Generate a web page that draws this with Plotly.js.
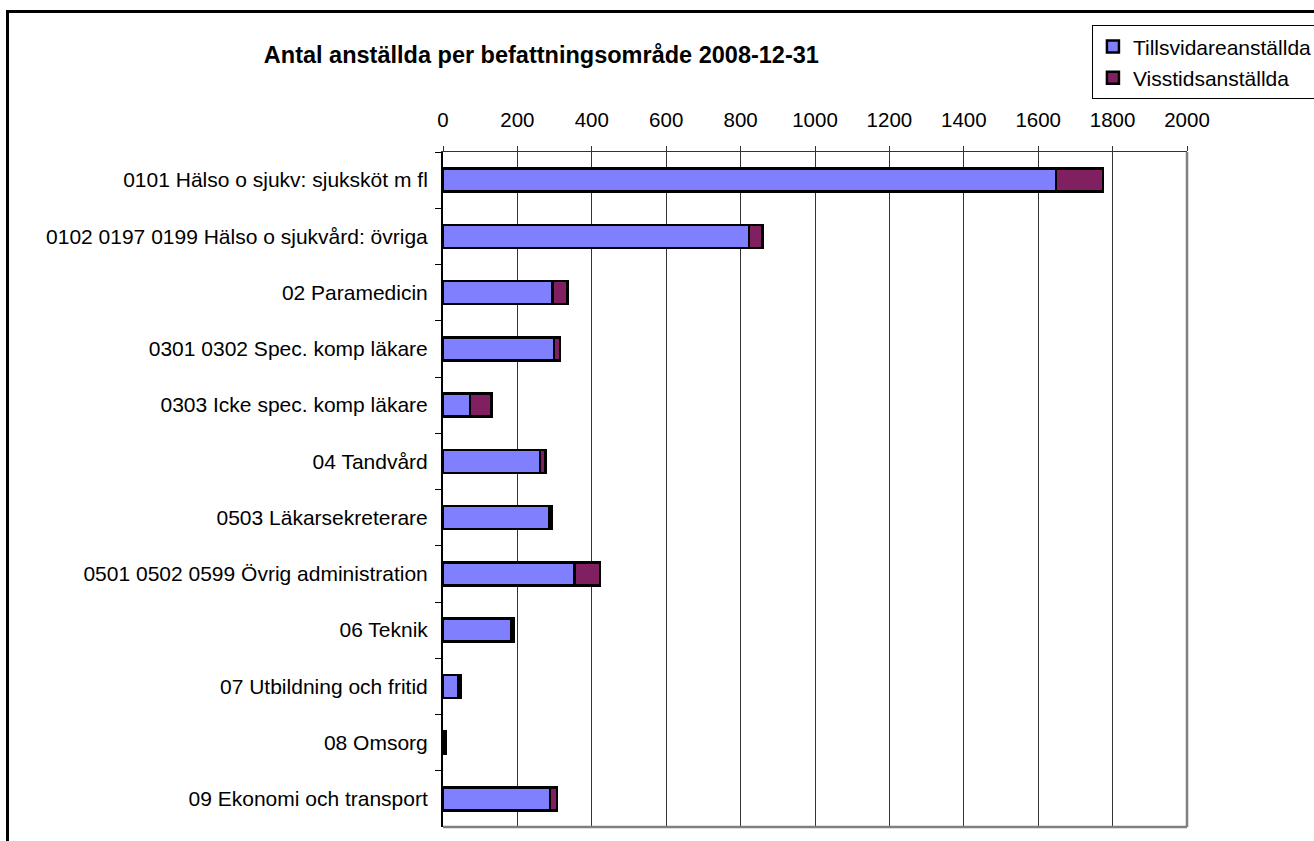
<!DOCTYPE html>
<html>
<head>
<meta charset="utf-8">
<script src="https://cdn.plot.ly/plotly-3.0.1.min.js"></script>
<style>
  html, body { margin: 0; padding: 0; overflow: hidden; background: #fff; }
  #wrap { position: relative; width: 1314px; height: 841px; }
  #chart { width: 1314px; height: 841px; }
  #frame { position: absolute; left: 6px; top: 10px; width: 1400px; height: 1000px;
           border: 3px solid #000; pointer-events: none; box-sizing: border-box; }
</style>
</head>
<body>
<div id="wrap">
  <div id="chart"></div>
  <div id="frame"></div>
</div>
<script>
const categories = [
  "0101 Hälso o sjukv: sjuksköt m fl",
  "0102 0197 0199 Hälso o sjukvård: övriga",
  "02 Paramedicin",
  "0301 0302 Spec. komp läkare",
  "0303 Icke spec. komp läkare",
  "04 Tandvård",
  "0503 Läkarsekreterare",
  "0501 0502 0599 Övrig administration",
  "06 Teknik",
  "07 Utbildning och fritid",
  "08 Omsorg",
  "09 Ekonomi och transport"
];
const tillsvidare = [1648, 823, 295, 298, 73, 261, 285, 353, 184, 42, 5, 288];
const visstid     = [126,  36,  40,  16,  58, 14,  7,   69,  5,   5,  3, 19];
const xTicks = [0, 200, 400, 600, 800, 1000, 1200, 1400, 1600, 1800, 2000];

const FONT = "Arial, 'Liberation Sans', sans-serif";

const traces = [
  {
    type: "bar", orientation: "h", name: "Tillsvidareanställda",
    y: categories, x: tillsvidare, legendgroup: "a",
    marker: { color: "#8080FF", line: { color: "#000", width: 2.5 } },
    hoverinfo: "x+y"
  },
  {
    type: "bar", orientation: "h", name: "Visstidsanställda",
    y: categories, x: visstid, legendgroup: "b",
    marker: { color: "#802060", line: { color: "#000", width: 2.5 } },
    hoverinfo: "x+y"
  }
];

const layout = {
  width: 1314, height: 841,
  paper_bgcolor: "#fff", plot_bgcolor: "#fff",
  font: { family: FONT, size: 21, color: "#000" },
  margin: { l: 443, r: 127, t: 152, b: 14, pad: 0, autoexpand: false },
  barmode: "stack",
  bargap: 0.59,
  title: {
    text: "<b>Antal anställda per befattningsområde 2008-12-31</b>",
    font: { family: FONT, size: 23.5, color: "#000" },
    xref: "container", x: 0.412, xanchor: "center",
    yref: "container", y: 0.935, yanchor: "middle"
  },
  xaxis: {
    side: "top", range: [0, 2000], tickvals: xTicks, ticktext: xTicks.map(String),
    showgrid: true, gridcolor: "#333", gridwidth: 1,
    zeroline: false,
    showline: true, linecolor: "#333", linewidth: 1,
    ticks: "outside", ticklen: 5, tickcolor: "#333", tickwidth: 1,
    ticklabelstandoff: 11,
    tickfont: { family: FONT, size: 20.5, color: "#000" },
    automargin: false,
    fixedrange: true
  },
  yaxis: {
    type: "category", autorange: "reversed",
    showgrid: false, zeroline: false,
    showline: true, linecolor: "#000", linewidth: 2,
    ticks: "outside", tickson: "boundaries", ticklen: 6, tickcolor: "#000", tickwidth: 1,
    ticklabelstandoff: 9,
    tickfont: { family: FONT, size: 21, color: "#000" },
    automargin: false,
    fixedrange: true
  },
  shapes: [
    { type: "line", xref: "paper", yref: "paper", x0: 1, x1: 1, y0: 0, y1: 1,
      line: { color: "#808080", width: 2.5 } },
    { type: "line", xref: "paper", yref: "paper", x0: 0, x1: 1, y0: 0, y1: 0,
      line: { color: "#808080", width: 2.5 } }
  ],
  showlegend: true,
  legend: {
    xref: "container", x: 0.831, xanchor: "left",
    yref: "container", y: 0.970, yanchor: "top",
    bordercolor: "#000", borderwidth: 1, bgcolor: "#fff",
    font: { family: FONT, size: 21, color: "#000" },
    traceorder: "grouped", tracegroupgap: 1,
    itemwidth: 30
  }
};

Plotly.newPlot("chart", traces, layout, { staticPlot: true, displayModeBar: false });
</script>
</body>
</html>
